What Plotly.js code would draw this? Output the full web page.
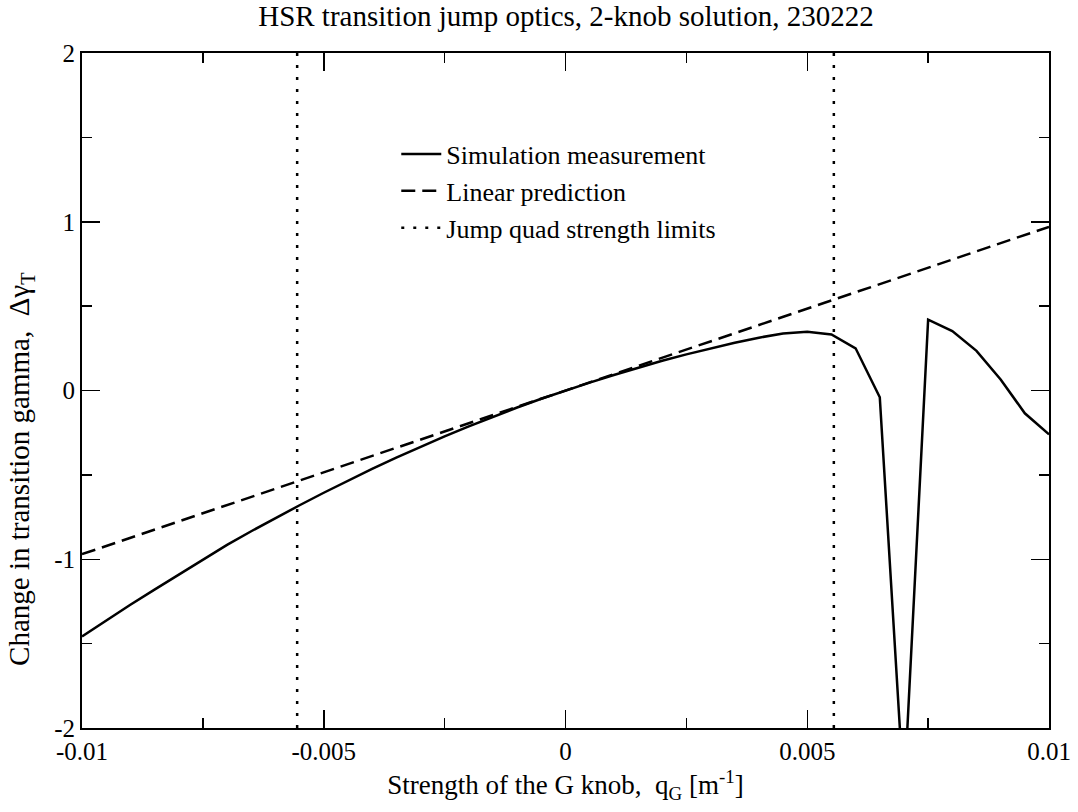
<!DOCTYPE html>
<html>
<head>
<meta charset="utf-8">
<script src="https://cdn.plot.ly/plotly-3.0.1.min.js"></script>
<style>
  html, body { margin: 0; padding: 0; background: #fff; }
  #chart { width: 1078px; height: 812px; }
</style>
</head>
<body>
<div id="chart"></div>
<script>
// G knob strength [1/m]
const qG = [
  -0.0100, -0.0095, -0.0090, -0.0085, -0.0080, -0.0075, -0.0070, -0.0065, -0.0060, -0.0055,
  -0.0050, -0.0045, -0.0040, -0.0035, -0.0030, -0.0025, -0.0020, -0.0015, -0.0010, -0.0005,
   0.0000,  0.0005,  0.0010,  0.0015,  0.0020,  0.0025,  0.0030,  0.0035,  0.0040,  0.0045,
   0.0050,  0.0055,  0.0060,  0.0065,  0.0070,  0.0075,  0.0080,  0.0085,  0.0090,  0.0095,
   0.0100
];
// Simulated change in transition gamma
const dGammaSim = [
  -1.458, -1.362, -1.270, -1.180, -1.090, -1.000, -0.915, -0.834, -0.755, -0.680,
  -0.606, -0.534, -0.465, -0.398, -0.334, -0.272, -0.213, -0.156, -0.101, -0.049,
   0.000,  0.047,  0.092,  0.135,  0.176,  0.214,  0.250,  0.283,  0.313,  0.338,
   0.348,  0.332,  0.250, -0.040, -2.400,  0.420,  0.352,  0.235,  0.065, -0.135,
  -0.260
];
// Linear prediction end points
const linX = [-0.01, 0.01];
const linY = [-0.97, 0.97];
// Jump quad strength limits
const limitQ = [-0.00555, 0.00555];
const yRange = [-2, 2];
const xRange = [-0.01, 0.01];

const xTickVals = [-0.01, -0.005, 0, 0.005, 0.01];
const xTickText = ['-0.01', '-0.005', '0', '0.005', '0.01'];
const yTickVals = [-2, -1, 0, 1, 2];
const yTickText = ['-2', '-1', '0', '1', '2'];

const titleText = 'HSR transition jump optics, 2-knob solution, 230222';
const xTitleText = 'Strength of the G knob,  q<sub>G</sub> [m<sup>-1</sup>]';
const yTitleText = 'Change in transition gamma,  Δγ<sub>T</sub>';

const limX = [], limY = [];
limitQ.forEach((q, i) => {
  if (i > 0) { limX.push(null); limY.push(null); }
  limX.push(q, q); limY.push(yRange[0], yRange[1]);
});

const FONT = 'Liberation Serif';

const traces = [
  { x: qG, y: dGammaSim, mode: 'lines', name: 'Simulation measurement',
    line: { color: '#000', width: 2.5 } },
  { x: linX, y: linY, mode: 'lines', name: 'Linear prediction',
    line: { color: '#000', width: 2.5, dash: '14px,7px' } },
  { x: limX, y: limY, mode: 'lines', name: 'Jump quad strength limits',
    line: { color: '#000', width: 2.5, dash: '3px,9px' } }
];

const axisCommon = {
  showline: true, linecolor: '#000', linewidth: 2,
  mirror: 'allticks', ticks: 'inside', ticklen: 18, tickwidth: 1.5, tickcolor: '#000',
  showgrid: false, zeroline: false, tickmode: 'array',
  tickfont: { family: FONT, size: 25, color: '#000' }
};

const layout = {
  width: 1078, height: 812,
  paper_bgcolor: '#fff', plot_bgcolor: '#fff',
  margin: { l: 82, r: 29, t: 53, b: 84 },
  font: { family: FONT, color: '#000' },
  title: { text: titleText,
    font: { family: FONT, size: 29, color: '#000' },
    x: 0.525, xanchor: 'center', y: 0.981, yanchor: 'middle', yref: 'container' },
  xaxis: Object.assign({}, axisCommon, {
    range: xRange, tickvals: xTickVals, ticktext: xTickText,
    minor: { ticks: 'inside', ticklen: 10, tickwidth: 1.5, tickcolor: '#000', dtick: 0.0025, showgrid: false },
    title: { text: xTitleText,
      font: { family: FONT, size: 27, color: '#000' }, standoff: 11 }
  }),
  yaxis: Object.assign({}, axisCommon, {
    range: yRange, tickvals: yTickVals, ticktext: yTickText,
    minor: { ticks: 'inside', ticklen: 10, tickwidth: 1.5, tickcolor: '#000', dtick: 0.5, showgrid: false }
  }),
  annotations: [{
    text: yTitleText, textangle: -90, showarrow: false,
    xref: 'paper', yref: 'paper', x: -0.063, y: 0.384,
    xanchor: 'center', yanchor: 'middle',
    font: { family: FONT, size: 29, color: '#000' }
  }],
  showlegend: true,
  legend: {
    x: 0.325, y: 0.885, xanchor: 'left', yanchor: 'top',
    bgcolor: 'rgba(0,0,0,0)', borderwidth: 0,
    font: { family: FONT, size: 26, color: '#000' },
    itemwidth: 40
  }
};

Plotly.newPlot('chart', traces, layout, { displayModeBar: false, staticPlot: true });
</script>
</body>
</html>
